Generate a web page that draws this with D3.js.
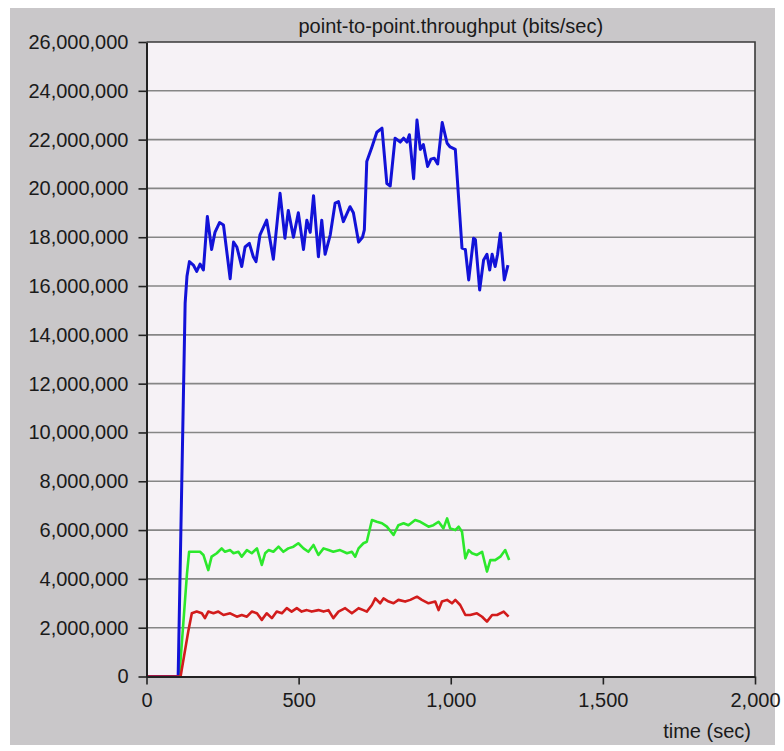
<!DOCTYPE html>
<html>
<head>
<meta charset="utf-8">
<script src="https://cdn.jsdelivr.net/npm/d3@7"></script>
<style>
  html, body { margin: 0; padding: 0; background: #ffffff; }
  svg { display: block; }
  text { font-family: "Liberation Sans", Arial, sans-serif; fill: #1a1a1a; }
</style>
</head>
<body>
<svg id="chart" width="784" height="751"></svg>
<script>
// Throughput samples: time (sec) and value (Mbit/s) for each flow
const blueTime  = [0, 104, 127, 133, 141, 154, 165, 176, 187, 200, 214, 225, 240, 253, 275, 286, 297, 313, 324, 338, 351, 360, 373, 395, 417, 439, 455, 466, 483, 499, 516, 527, 538, 549, 565, 576, 587, 604, 620, 631, 647, 669, 680, 697, 710, 716, 724, 741, 757, 774, 790, 801, 817, 834, 845, 856, 864, 878, 889, 900, 910, 924, 935, 946, 957, 972, 988, 998, 1015, 1037, 1048, 1059, 1075, 1081, 1095, 1108, 1119, 1128, 1136, 1146, 1154, 1163, 1176, 1188];
const blueValue = [0, 0, 15.3, 16.4, 17.0, 16.86, 16.6, 16.9, 16.66, 18.85, 17.5, 18.2, 18.6, 18.5, 16.3, 17.8, 17.6, 16.8, 17.6, 17.75, 17.2, 17.0, 18.1, 18.7, 17.1, 19.8, 17.96, 19.1, 18.0, 19.0, 17.5, 18.7, 18.2, 19.7, 17.2, 18.7, 17.3, 18.1, 19.4, 19.46, 18.64, 19.25, 19.0, 17.8, 18.0, 18.3, 21.1, 21.7, 22.3, 22.47, 20.2, 20.1, 22.06, 21.9, 22.06, 21.9, 22.2, 20.4, 22.8, 21.6, 21.8, 20.9, 21.2, 21.24, 21.0, 22.7, 21.85, 21.7, 21.6, 17.55, 17.5, 16.25, 17.96, 17.9, 15.84, 17.07, 17.3, 16.66, 17.3, 16.8, 17.3, 18.16, 16.25, 16.86];

const greenTime  = [0, 108, 133, 140, 176, 187, 203, 214, 231, 247, 258, 275, 286, 302, 313, 330, 346, 363, 379, 390, 401, 417, 434, 450, 466, 483, 499, 516, 532, 549, 565, 582, 598, 614, 636, 659, 675, 686, 697, 713, 724, 741, 757, 774, 790, 812, 828, 845, 861, 883, 900, 927, 943, 960, 976, 988, 998, 1015, 1026, 1037, 1048, 1059, 1070, 1086, 1103, 1119, 1130, 1146, 1163, 1179, 1192];
const greenValue = [0, 0, 4.2, 5.11, 5.11, 4.98, 4.36, 4.91, 5.05, 5.25, 5.11, 5.18, 5.05, 5.11, 4.91, 5.18, 5.05, 5.25, 4.57, 5.05, 5.18, 5.11, 5.32, 5.11, 5.25, 5.32, 5.46, 5.25, 5.11, 5.39, 4.98, 5.25, 5.18, 5.11, 5.18, 5.05, 5.11, 4.91, 5.25, 5.46, 5.52, 6.41, 6.34, 6.28, 6.14, 5.8, 6.2, 6.28, 6.2, 6.41, 6.34, 6.14, 6.2, 6.34, 6.07, 6.48, 6.07, 6.0, 6.14, 5.93, 4.84, 5.18, 5.05, 4.98, 5.11, 4.3, 4.77, 4.77, 4.91, 5.18, 4.77];

const redTime  = [0, 112, 138, 149, 165, 182, 192, 203, 220, 236, 253, 275, 297, 313, 330, 346, 363, 379, 395, 412, 428, 445, 461, 477, 494, 510, 527, 543, 565, 582, 598, 614, 631, 653, 675, 697, 713, 724, 741, 752, 768, 779, 796, 812, 828, 850, 867, 889, 905, 927, 949, 960, 971, 988, 1004, 1015, 1031, 1048, 1064, 1086, 1103, 1119, 1136, 1152, 1174, 1190];
const redValue = [0, 0, 1.9, 2.59, 2.66, 2.59, 2.39, 2.66, 2.59, 2.66, 2.52, 2.59, 2.45, 2.52, 2.45, 2.66, 2.59, 2.32, 2.59, 2.39, 2.66, 2.59, 2.8, 2.66, 2.8, 2.66, 2.72, 2.66, 2.72, 2.66, 2.72, 2.39, 2.66, 2.8, 2.59, 2.8, 2.72, 2.66, 2.93, 3.2, 3.0, 3.2, 3.07, 3.0, 3.14, 3.07, 3.14, 3.27, 3.14, 3.0, 3.07, 2.72, 3.07, 3.14, 3.0, 3.14, 2.93, 2.52, 2.52, 2.59, 2.45, 2.25, 2.52, 2.52, 2.66, 2.45];

const yTicks = [0, 2e6, 4e6, 6e6, 8e6, 10e6, 12e6, 14e6, 16e6, 18e6, 20e6, 22e6, 24e6, 26e6];
const xTicks = [0, 500, 1000, 1500, 2000];

const titleText = "point-to-point.throughput (bits/sec)";
const xLabelText = "time (sec)";
const MBIT = 1e6;

const svg = d3.select("#chart");
const W = 784, H = 751;

// Panel and plot area
svg.append("rect").attr("x", 10).attr("y", 8).attr("width", 765).attr("height", 737)
  .attr("fill", "#c9c7c9");

const x = d3.scaleLinear().domain([0, 2000]).range([146.5, 755]);
const y = d3.scaleLinear().domain([0, 26e6]).range([676.5, 42]);

svg.append("rect")
  .attr("x", x(0)).attr("y", y(26e6))
  .attr("width", x(2000) - x(0)).attr("height", y(0) - y(26e6))
  .attr("fill", "#f6f2f6");

// Horizontal grid
svg.append("g").selectAll("line")
  .data(yTicks.filter(d => d > 0 && d < 26e6))
  .join("line")
  .attr("x1", x(0)).attr("x2", x(2000))
  .attr("y1", d => y(d)).attr("y2", d => y(d))
  .attr("stroke", "#868686").attr("stroke-width", 1.6);

// Top and right border
svg.append("path")
  .attr("d", `M${x(0)},${y(26e6)}H${x(2000)}V${y(0)}`)
  .attr("fill", "none").attr("stroke", "#3a3a3a").attr("stroke-width", 1.6);

// Series lines
const toPoints = (ts, vs) => ts.map((t, i) => [t, vs[i] * MBIT]);
const line = d3.line().x(d => x(d[0])).y(d => y(d[1]));

const series = [
  { pts: toPoints(greenTime, greenValue), color: "#2ce82c", width: 2.6 },
  { pts: toPoints(blueTime, blueValue), color: "#1212d8", width: 3 },
  { pts: toPoints(redTime, redValue), color: "#d21c1c", width: 2.6 }
];

svg.append("g").selectAll("path")
  .data(series)
  .join("path")
  .attr("d", d => line(d.pts))
  .attr("fill", "none")
  .attr("stroke", d => d.color)
  .attr("stroke-width", d => d.width)
  .attr("stroke-linejoin", "round");

// Axes
const yAxis = d3.axisLeft(y)
  .tickValues(yTicks)
  .tickFormat(d3.format(","))
  .tickSize(8).tickSizeOuter(0).tickPadding(10);

const xAxis = d3.axisBottom(x)
  .tickValues(xTicks)
  .tickFormat(d3.format(","))
  .tickSize(8).tickSizeOuter(0).tickPadding(8);

const gy = svg.append("g").attr("transform", `translate(${x(0)},0)`).call(yAxis);
const gx = svg.append("g").attr("transform", `translate(0,${y(0)})`).call(xAxis);

[gy, gx].forEach(g => {
  g.select(".domain").attr("stroke", "#222").attr("stroke-width", 2);
  g.selectAll(".tick line").attr("stroke", "#222").attr("stroke-width", 1.6);
  g.selectAll(".tick text")
    .attr("fill", "#1a1a1a")
    .style("font-family", "'Liberation Sans', Arial, sans-serif")
    .style("font-size", "20px");
});

// Title and axis label
svg.append("text")
  .attr("x", (x(0) + x(2000)) / 2).attr("y", 33)
  .attr("text-anchor", "middle")
  .style("font-size", "20px")
  .text(titleText);

svg.append("text")
  .attr("x", 751).attr("y", 738)
  .attr("text-anchor", "end")
  .style("font-size", "20px")
  .text(xLabelText);
</script>
</body>
</html>
